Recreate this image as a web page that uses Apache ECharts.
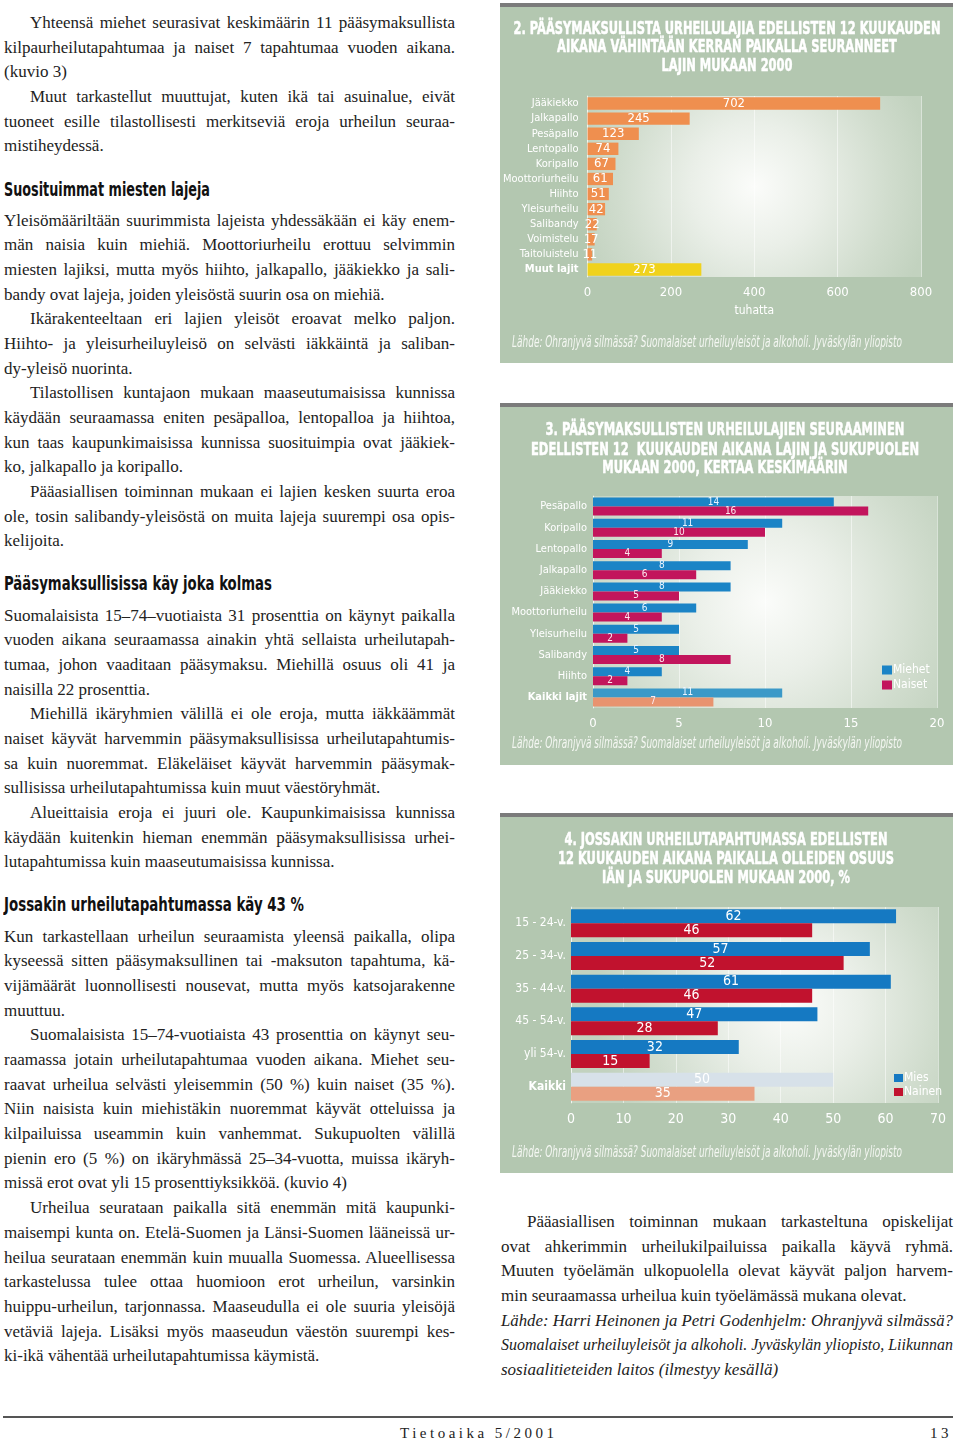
<!DOCTYPE html>
<html><head><meta charset="utf-8">
<script src="https://cdn.jsdelivr.net/npm/echarts@6/dist/echarts.min.js"></script>
<style>
html,body{margin:0;padding:0;background:#fff;}
body{width:960px;height:1441px;position:relative;overflow:hidden;font-family:"Liberation Serif","DejaVu Serif",serif;color:#222;}
.ln{position:absolute;height:24px;line-height:24px;font-size:17px;}
.ln span{white-space:nowrap;}
.it{font-style:italic;}
.hd{position:absolute;left:4px;height:26px;line-height:26px;font-family:"DejaVu Sans Condensed","DejaVu Sans",sans-serif;font-weight:bold;font-size:20px;white-space:nowrap;transform-origin:0 50%;color:#111;}
.panel{position:absolute;left:500px;width:453px;}
#footline{position:absolute;left:3px;width:950px;top:1416px;height:2px;background:#555;}
.foot{position:absolute;top:1423px;height:20px;line-height:20px;font-size:15px;letter-spacing:3.5px;color:#222;}
</style></head>
<body>
<div id="c1" class="panel" style="top:3px;height:360px;"></div>
<div id="c2" class="panel" style="top:403px;height:362px;"></div>
<div id="c3" class="panel" style="top:813px;height:360px;"></div>
<div id="footline"></div>
<div class="foot" style="left:400px;">Tietoaika 5/2001</div>
<div class="foot" style="left:930px;">13</div>
<script>
// ---------- chart data ----------
const cats1 = ['Jääkiekko','Jalkapallo','Pesäpallo','Lentopallo','Koripallo','Moottoriurheilu','Hiihto','Yleisurheilu','Salibandy','Voimistelu','Taitoluistelu','Muut lajit'];
const values1 = [702,245,123,74,67,61,51,42,22,17,11,273];

const cats2 = ['Pesäpallo','Koripallo','Lentopallo','Jalkapallo','Jääkiekko','Moottoriurheilu','Yleisurheilu','Salibandy','Hiihto','Kaikki lajit'];
const men2 = [14,11,9,8,8,6,5,5,4,11];
const women2 = [16,10,4,6,5,4,2,8,2,7];

const cats3 = ['15 - 24-v.','25 - 34-v.','35 - 44-v.','45 - 54-v.','yli 54-v.','Kaikki'];
const men3 = [62,57,61,47,32,50];
const women3 = [46,52,46,28,15,35];

const title1 = ['2. PÄÄSYMAKSULLISTA URHEILULAJIA EDELLISTEN 12 KUUKAUDEN','AIKANA VÄHINTÄÄN KERRAN PAIKALLA SEURANNEET','LAJIN MUKAAN 2000'];
const title2 = ['3. PÄÄSYMAKSULLISTEN URHEILULAJIEN SEURAAMINEN','EDELLISTEN 12  KUUKAUDEN AIKANA LAJIN JA SUKUPUOLEN','MUKAAN 2000, KERTAA KESKIMÄÄRIN'];
const title3 = ['4. JOSSAKIN URHEILUTAPAHTUMASSA EDELLISTEN','12 KUUKAUDEN AIKANA PAIKALLA OLLEIDEN OSUUS','IÄN JA SUKUPUOLEN MUKAAN 2000, %'];
const sourceText = 'Lähde: Ohranjyvä silmässä? Suomalaiset urheiluyleisöt ja alkoholi. Jyväskylän yliopisto';

// ---------- body text ----------
const leftParas = [
 {row:0, indent:true, lines:['Yhteensä miehet seurasivat keskimäärin 11 pääsymaksullista','kilpaurheilutapahtumaa ja naiset 7 tapahtumaa vuoden aikana.','(kuvio 3)']},
 {row:3, indent:true, lines:['Muut tarkastellut muuttujat, kuten ikä tai asuinalue, eivät','tuoneet esille tilastollisesti merkitseviä eroja urheilun seuraa-','mistiheydessä.']},
 {row:8, indent:false, lines:['Yleisömääriltään suurimmista lajeista yhdessäkään ei käy enem-','män naisia kuin miehiä. Moottoriurheilu erottuu selvimmin','miesten lajiksi, mutta myös hiihto, jalkapallo, jääkiekko ja sali-','bandy ovat lajeja, joiden yleisöstä suurin osa on miehiä.']},
 {row:12, indent:true, lines:['Ikärakenteeltaan eri lajien yleisöt eroavat melko paljon.','Hiihto- ja yleisurheiluyleisö on selvästi iäkkäintä ja saliban-','dy-yleisö nuorinta.']},
 {row:15, indent:true, lines:['Tilastollisen kuntajaon mukaan maaseutumaisissa kunnissa','käydään seuraamassa eniten pesäpalloa, lentopalloa ja hiihtoa,','kun taas kaupunkimaisissa kunnissa suosituimpia ovat jääkiek-','ko, jalkapallo ja koripallo.']},
 {row:19, indent:true, lines:['Pääasiallisen toiminnan mukaan ei lajien kesken suurta eroa','ole, tosin salibandy-yleisöstä on muita lajeja suurempi osa opis-','kelijoita.']},
 {row:24, indent:false, lines:['Suomalaisista 15–74–vuotiaista 31 prosenttia on käynyt paikalla','vuoden aikana seuraamassa ainakin yhtä sellaista urheilutapah-','tumaa, johon vaaditaan pääsymaksu. Miehillä osuus oli 41 ja','naisilla 22 prosenttia.']},
 {row:28, indent:true, lines:['Miehillä ikäryhmien välillä ei ole eroja, mutta iäkkäämmät','naiset käyvät harvemmin pääsymaksullisissa urheilutapahtumis-','sa kuin nuoremmat. Eläkeläiset käyvät harvemmin pääsymak-','sullisissa urheilutapahtumissa kuin muut väestöryhmät.']},
 {row:32, indent:true, lines:['Alueittaisia eroja  ei juuri ole. Kaupunkimaisissa kunnissa','käydään kuitenkin hieman enemmän pääsymaksullisissa urhei-','lutapahtumissa kuin maaseutumaisissa kunnissa.']},
 {row:37, indent:false, lines:['Kun tarkastellaan urheilun seuraamista yleensä paikalla, olipa','kyseessä sitten pääsymaksullinen tai -maksuton tapahtuma, kä-','vijämäärät luonnollisesti nousevat, mutta myös katsojarakenne','muuttuu.']},
 {row:41, indent:true, lines:['Suomalaisista 15–74-vuotiaista 43 prosenttia on käynyt seu-','raamassa jotain urheilutapahtumaa vuoden aikana. Miehet seu-','raavat urheilua selvästi yleisemmin (50 %) kuin naiset (35 %).','Niin naisista kuin miehistäkin nuoremmat käyvät otteluissa ja','kilpailuissa useammin kuin vanhemmat. Sukupuolten välillä','pienin ero (5 %) on ikäryhmässä 25–34-vuotta, muissa ikäryh-','missä erot ovat yli 15 prosenttiyksikköä.  (kuvio 4)']},
 {row:48, indent:true, lines:['Urheilua seurataan paikalla sitä enemmän mitä kaupunki-','maisempi kunta on. Etelä-Suomen ja Länsi-Suomen lääneissä ur-','heilua seurataan enemmän kuin muualla Suomessa. Alueellisessa','tarkastelussa tulee ottaa huomioon erot urheilun, varsinkin','huippu-urheilun, tarjonnassa. Maaseudulla ei ole suuria yleisöjä','vetäviä lajeja. Lisäksi myös maaseudun väestön suurempi kes-','ki-ikä vähentää urheilutapahtumissa käymistä.']}
];
const rightParas = [
 {row:0, indent:true, lines:['Pääasiallisen toiminnan mukaan tarkasteltuna opiskelijat','ovat ahkerimmin urheilukilpailuissa paikalla käyvä ryhmä.','Muuten työelämän ulkopuolella olevat käyvät paljon harvem-','min seuraamassa urheilua kuin työelämässä mukana olevat.']},
 {row:4, indent:false, italic:true, lines:['Lähde: Harri Heinonen ja Petri Godenhjelm: Ohranjyvä silmässä?','Suomalaiset urheiluyleisöt ja alkoholi. Jyväskylän yliopisto, Liikunnan','sosiaalitieteiden laitos (ilmestyy kesällä)']}
];
const headings = [
 {y:189, w:206, text:'Suosituimmat miesten lajeja'},
 {y:583, w:268, text:'Pääsymaksullisissa käy joka kolmas'},
 {y:904, w:300, text:'Jossakin urheilutapahtumassa käy 43 %'}
];

const PITCH = 24.69;
function layoutColumn(paras, x0, x1, y0){
  paras.forEach(p=>{
    p.lines.forEach((t,i)=>{
      const d = document.createElement('div');
      d.className = 'ln' + (p.italic ? ' it' : '');
      const left = x0 + ((p.indent && i===0) ? 26 : 0);
      const W = x1 - left;
      d.style.left = left + 'px';
      d.style.width = W + 'px';
      d.style.top = (y0 + (p.row + i) * PITCH - 11) + 'px';
      const s = document.createElement('span');
      s.textContent = t;
      d.appendChild(s);
      document.body.appendChild(d);
      const nat = s.getBoundingClientRect().width;
      const last = i === p.lines.length - 1;
      if (nat > W) {
        s.style.display = 'inline-block';
        s.style.transformOrigin = '0 50%';
        s.style.transform = 'scaleX(' + (W / nat) + ')';
      } else if (!last) {
        s.style.whiteSpace = 'normal';
        d.style.textAlign = 'justify';
        d.style.textAlignLast = 'justify';
      }
    });
  });
}
layoutColumn(leftParas, 4, 455, 22);
layoutColumn(rightParas, 501, 953, 1221);
headings.forEach(h=>{
  const d = document.createElement('div');
  d.className = 'hd';
  d.textContent = h.text;
  d.style.top = (h.y - 13) + 'px';
  document.body.appendChild(d);
  const nat = d.getBoundingClientRect().width;
  d.style.transform = 'scaleX(' + (h.w / nat) + ')';
});

// ---------- chart helpers ----------
const PANEL = '#b3c7b0';
const NARROW = '"Liberation Sans Narrow","DejaVu Sans Condensed","DejaVu Sans",sans-serif';
const TFONT = 'bold 18px "DejaVu Sans Condensed","DejaVu Sans",sans-serif';
const SFONT = 'italic 16px "DejaVu Sans Condensed","DejaVu Sans",sans-serif';
const mctx = document.createElement('canvas').getContext('2d');
function measure(font, text){ mctx.font = font; return mctx.measureText(text).width; }

function titleGraphics(lines, cx, ys, refIdx, refW){
  const sc = refW / measure(TFONT, lines[refIdx]);
  return lines.map((t,i)=>({
    type:'text', x:cx, y:ys[i], scaleX:sc, silent:true,
    style:{text:t, font:TFONT, fill:'#ffffff', stroke:'#ffffff', lineWidth:0.5, align:'center', verticalAlign:'middle', textAlign:'center', textVerticalAlign:'middle'}
  }));
}
function sourceGraphic(x, y){
  const sc = 390 / measure(SFONT, sourceText);
  return {type:'text', x:x, y:y, scaleX:sc, silent:true,
    style:{text:sourceText, font:SFONT, fill:'#f4f7f2', align:'left', verticalAlign:'middle', textAlign:'left', textVerticalAlign:'middle'}};
}
function topBar(){ return {type:'rect', shape:{x:0,y:0,width:453,height:4}, style:{fill:'#7b7b7b'}, silent:true}; }
function plotBg(cx){
  return {type:'radial', x:cx, y:0.5, r:1.0, colorStops:[
    {offset:0, color:'#fbfcfa'},{offset:0.35, color:'#eaefe8'},{offset:0.75, color:'#d0dccd'},{offset:1, color:'#c2d2bf'}]};
}
function valueAxis(max, interval, fs){
  return {type:'value', min:0, max:max, interval:interval,
    axisLine:{show:false}, axisTick:{show:false},
    axisLabel:{color:'#ffffff', fontFamily:NARROW, fontSize:fs, margin:9},
    splitLine:{show:true, lineStyle:{color:'rgba(255,255,255,0.5)', width:1}}};
}
function catAxis(cats, fs, boldLast, margin){
  return {type:'category', inverse:true,
    data: cats.map((c,i)=> (boldLast && i===cats.length-1) ? {value:c, textStyle:{fontWeight:'bold'}} : c),
    axisLine:{show:true, lineStyle:{color:'rgba(255,255,255,0.55)'}}, axisTick:{show:false},
    axisLabel:{color:'#ffffff', fontFamily:NARROW, fontSize:fs, margin:margin, interval:0}};
}

// ---------- chart 1 ----------
const ch1 = echarts.init(document.getElementById('c1'), null, {renderer:'canvas'});
ch1.setOption({
  animation:false, backgroundColor:PANEL,
  graphic:[topBar()].concat(titleGraphics(title1, 227, [26,44,63], 0, 427)).concat([sourceGraphic(12, 340)]),
  grid:{left:85, right:32, top:93, bottom:86, show:true, borderWidth:0, backgroundColor:plotBg(0.5)},
  xAxis:Object.assign(valueAxis(800, 200, 13), {name:'tuhatta', nameLocation:'middle', nameGap:28,
    nameTextStyle:{color:'#ffffff', fontFamily:NARROW, fontSize:12}}),
  yAxis:catAxis(cats1, 11, true, 9),
  series:[{type:'bar', barCategoryGap:'18%',
    data: values1.map((v,i)=> i===values1.length-1 ? {value:v, itemStyle:{color:'#f0d21c'}} : v),
    itemStyle:{color:'#ef8f4f'},
    label:{show:true, position:'inside', color:'#ffffff', fontFamily:NARROW, fontSize:13}}]
});

// ---------- chart 2 ----------
const ch2 = echarts.init(document.getElementById('c2'), null, {renderer:'canvas'});
const last2 = cats2.length - 1;
ch2.setOption({
  animation:false, backgroundColor:PANEL,
  graphic:[topBar()].concat(titleGraphics(title2, 225, [27,47,65], 1, 388)).concat([sourceGraphic(12, 341)]),
  grid:{left:93, right:16, top:93, bottom:57, show:true, borderWidth:0, backgroundColor:plotBg(0.5)},
  legend:{data:['Miehet','Naiset'], orient:'vertical', left:377, top:256, icon:'rect', itemWidth:10, itemHeight:9, itemGap:3,
    textStyle:{color:'#ffffff', fontFamily:NARROW, fontSize:12, padding:[0,0,0,-4]}},
  xAxis:valueAxis(20, 5, 13),
  yAxis:catAxis(cats2, 11, true, 6),
  series:[
    {name:'Miehet', type:'bar', barWidth:9, barGap:'0%', itemStyle:{color:'#1b84c6'},
     data: men2.map((v,i)=> i===last2 ? {value:v, itemStyle:{color:'#3b99c8'}} : v),
     label:{show:true, position:'inside', color:'#eaf4ff', fontFamily:NARROW, fontSize:10}},
    {name:'Naiset', type:'bar', barWidth:9, barGap:'0%', itemStyle:{color:'#c2155c'},
     data: women2.map((v,i)=> i===last2 ? {value:v, itemStyle:{color:'#e8936f'}} : v),
     label:{show:true, position:'inside', color:'#fde8ef', fontFamily:NARROW, fontSize:10}}
  ]
});

// ---------- chart 3 ----------
const ch3 = echarts.init(document.getElementById('c3'), null, {renderer:'canvas'});
const last3 = cats3.length - 1;
ch3.setOption({
  animation:false, backgroundColor:PANEL,
  graphic:[topBar()].concat(titleGraphics(title3, 226, [27,46,65], 1, 336)).concat([sourceGraphic(12, 340)]),
  grid:{left:71, right:15, top:94, bottom:70, show:true, borderWidth:0, backgroundColor:plotBg(0.6)},
  legend:{data:['Mies','Nainen'], orient:'vertical', left:389, top:254, icon:'rect', itemWidth:9, itemHeight:8, itemGap:2,
    textStyle:{color:'#ffffff', fontFamily:NARROW, fontSize:12, padding:[0,0,0,-4]}},
  xAxis:valueAxis(70, 10, 14),
  yAxis:catAxis(cats3, 12, true, 5),
  series:[
    {name:'Mies', type:'bar', barWidth:14, barGap:'0%', itemStyle:{color:'#1579c2'},
     data: men3.map((v,i)=> i===last3 ? {value:v, itemStyle:{color:'#d7e1e9'}} : v),
     label:{show:true, position:'inside', color:'#ffffff', fontFamily:NARROW, fontSize:14}},
    {name:'Nainen', type:'bar', barWidth:14, barGap:'0%', itemStyle:{color:'#c1122e'},
     data: women3.map((v,i)=> i===last3 ? {value:v, itemStyle:{color:'#e9a081'}} : v),
     label:{show:true, position:'inside', color:'#ffffff', fontFamily:NARROW, fontSize:14}}
  ]
});
</script>
</body></html>
